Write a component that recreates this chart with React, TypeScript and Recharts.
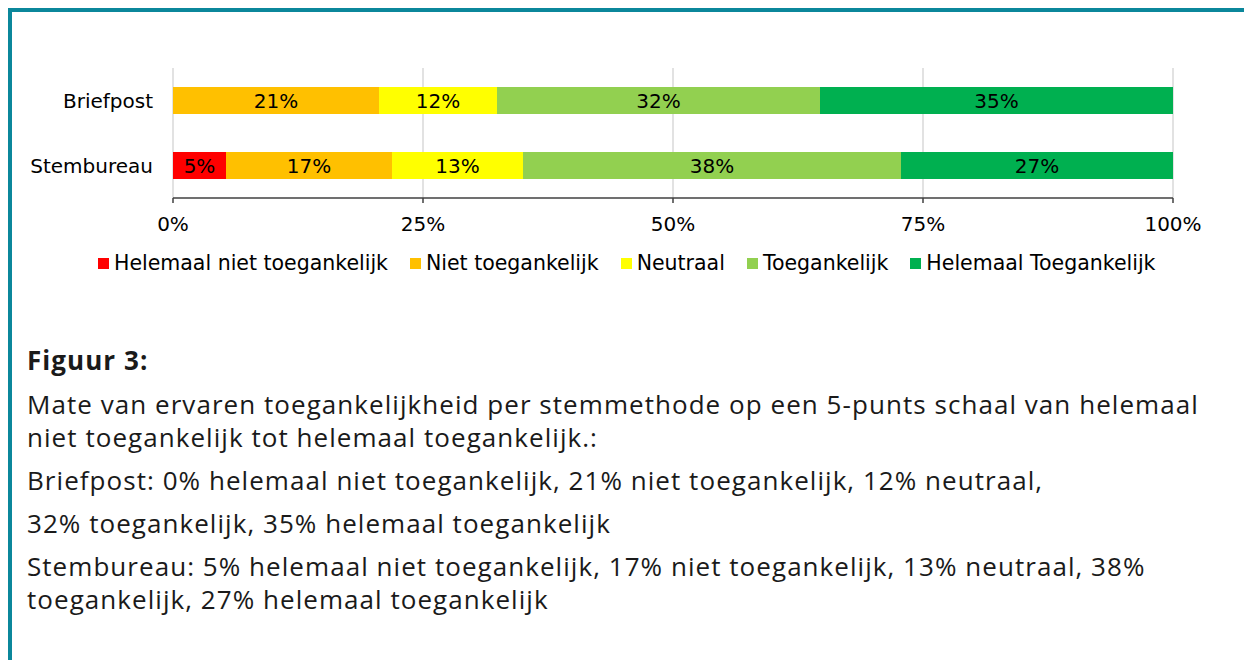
import React from "react";
import {
  BarChart,
  Bar,
  XAxis,
  YAxis,
  CartesianGrid,
  LabelList,
} from "recharts";

const categories = ["Briefpost", "Stembureau"];

// shares per answer (percent)
const helemaalNiet = [0, 5.3];
const niet = [20.6, 16.6];
const neutraal = [11.8, 13.1];
const toegankelijk = [32.3, 37.8];
const helemaalWel = [35.3, 27.2];

const seriesNames = [
  "Helemaal niet toegankelijk",
  "Niet toegankelijk",
  "Neutraal",
  "Toegankelijk",
  "Helemaal Toegankelijk",
];
const seriesColors = ["#ff0000", "#ffc000", "#ffff00", "#92d050", "#00b050"];
const seriesKeys = ["hn", "n", "neu", "t", "ht"];
const seriesValues = [helemaalNiet, niet, neutraal, toegankelijk, helemaalWel];

const xTicks = [0, 25, 50, 75, 100];

const captionTitle = "Figuur 3:";
const captionParagraphs = [
  [
    "Mate van ervaren toegankelijkheid per stemmethode op een 5-punts schaal van helemaal",
    "niet toegankelijk tot helemaal toegankelijk.:",
  ],
  ["Briefpost: 0% helemaal niet toegankelijk, 21% niet toegankelijk, 12% neutraal,"],
  ["32% toegankelijk, 35% helemaal toegankelijk"],
  [
    "Stembureau: 5% helemaal niet toegankelijk, 17% niet toegankelijk, 13% neutraal, 38%",
    "toegankelijk, 27% helemaal toegankelijk",
  ],
];

const data = categories.map((name, i) => {
  const row: Record<string, string | number> = { name };
  seriesKeys.forEach((k, s) => {
    row[k] = seriesValues[s][i];
  });
  return row;
});

const chartFont = "'DejaVu Sans', Verdana, sans-serif";
const fs = 20;

const pctLabel = (v: any) => {
  const n = Number(v);
  return n > 0 ? `${Math.round(n)}%` : "";
};

export default function App() {
  return (
    <div
      style={{
        position: "absolute",
        left: 0,
        top: 0,
        width: 1244,
        height: 660,
        overflow: "hidden",
        background: "#fff",
      }}
    >
      <div
        style={{
          position: "absolute",
          left: 8,
          top: 8,
          width: 1236,
          height: 652,
          borderTop: "4px solid #0b879b",
          borderLeft: "4px solid #0b879b",
          boxSizing: "border-box",
        }}
      />

      <div style={{ position: "absolute", left: 0, top: 0 }}>
        <BarChart
          width={1244}
          height={240}
          data={data}
          layout="vertical"
          barCategoryGap={19}
          margin={{ top: 68, right: 71, left: 13, bottom: 12 }}
        >
          <CartesianGrid horizontal={false} stroke="#d9d9d9" strokeWidth={1.5} />
          <XAxis
            type="number"
            domain={[0, 100]}
            ticks={xTicks}
            tickFormatter={(v) => `${v}%`}
            height={30}
            axisLine={{ stroke: "#404040", strokeWidth: 1.5 }}
            tickLine={{ stroke: "#404040", strokeWidth: 1.5 }}
            tickSize={5}
            tickMargin={14}
            tick={{ fontSize: fs, fill: "#000", fontFamily: chartFont }}
            interval={0}
          />
          <YAxis
            type="category"
            dataKey="name"
            width={160}
            axisLine={false}
            tickLine={false}
            tickSize={0}
            tickMargin={20}
            tick={{ fontSize: fs, fill: "#000", fontFamily: chartFont }}
          />
          {seriesKeys.map((k, s) => (
            <Bar
              key={k}
              dataKey={k}
              name={seriesNames[s]}
              stackId="a"
              fill={seriesColors[s]}
              isAnimationActive={false}
            >
              <LabelList
                dataKey={k}
                position="center"
                formatter={pctLabel}
                style={{ fontSize: fs, fill: "#000", fontFamily: chartFont }}
              />
            </Bar>
          ))}
        </BarChart>
      </div>

      <div
        style={{
          position: "absolute",
          left: 98,
          top: 251,
          display: "flex",
          alignItems: "center",
          fontFamily: chartFont,
          fontSize: 20.5,
          color: "#000",
          whiteSpace: "nowrap",
        }}
      >
        {seriesNames.map((n, s) => (
          <div
            key={n}
            style={{ display: "flex", alignItems: "center", marginRight: 22 }}
          >
            <span
              style={{
                width: 11,
                height: 11,
                background: seriesColors[s],
                marginRight: 5,
                display: "inline-block",
              }}
            />
            <span>{n}</span>
          </div>
        ))}
      </div>

      <div
        style={{
          position: "absolute",
          left: 27,
          top: 344,
          fontFamily: "'Open Sans', sans-serif",
          color: "#1a1a1a",
          whiteSpace: "nowrap",
          letterSpacing: 1.05,
        }}
      >
        <div style={{ fontWeight: 700, fontSize: 26, lineHeight: "32px" }}>
          {captionTitle}
        </div>
        {captionParagraphs.map((p, i) => (
          <div
            key={i}
            style={{ fontSize: 26, lineHeight: "33px", marginTop: i === 0 ? 12 : 10 }}
          >
            {p.map((line, j) => (
              <div key={j}>{line}</div>
            ))}
          </div>
        ))}
      </div>
    </div>
  );
}
